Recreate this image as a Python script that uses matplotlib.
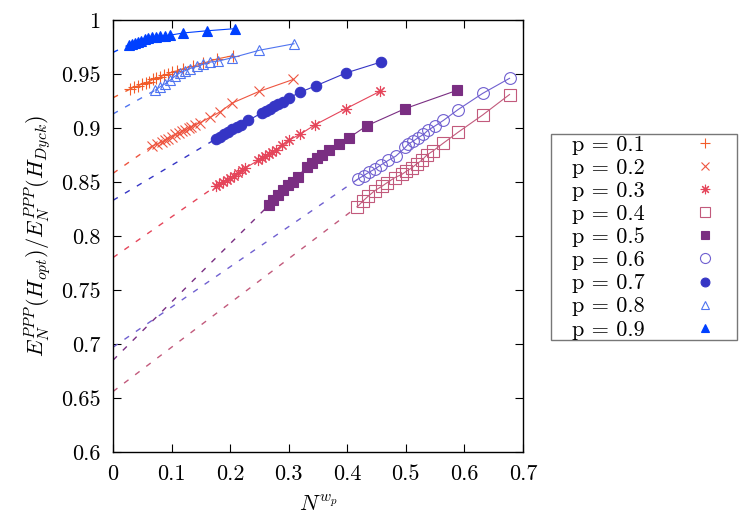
import matplotlib
matplotlib.use("Agg")
import matplotlib.pyplot as plt
from matplotlib.patches import Rectangle

plt.rcParams['font.family'] = 'serif'
plt.rcParams['font.serif'] = ['cmr10', 'DejaVu Serif']
plt.rcParams['mathtext.fontset'] = 'cm'
plt.rcParams['axes.formatter.use_mathtext'] = True

# values
labels = ['p = 0.1', 'p = 0.2', 'p = 0.3', 'p = 0.4', 'p = 0.5',
          'p = 0.6', 'p = 0.7', 'p = 0.8', 'p = 0.9']

x01 = [0.029, 0.036, 0.043, 0.050, 0.056, 0.062, 0.068, 0.074, 0.080, 0.087,
       0.094, 0.101, 0.110, 0.120, 0.136, 0.154, 0.178, 0.205]
y01 = [0.936, 0.938, 0.939, 0.941, 0.942, 0.943, 0.945, 0.946, 0.947, 0.949,
       0.950, 0.952, 0.953, 0.955, 0.957, 0.960, 0.964, 0.967]

x02 = [0.066, 0.075, 0.083, 0.089, 0.094, 0.100, 0.106, 0.112, 0.117, 0.123,
       0.129, 0.134, 0.140, 0.149, 0.166, 0.183, 0.203, 0.250, 0.308]
y02 = [0.883, 0.885, 0.887, 0.889, 0.890, 0.892, 0.894, 0.895, 0.897, 0.898,
       0.900, 0.901, 0.903, 0.905, 0.910, 0.915, 0.923, 0.934, 0.945]

x03 = [0.175, 0.181, 0.188, 0.194, 0.200, 0.207, 0.213, 0.220, 0.226, 0.248,
       0.254, 0.260, 0.266, 0.272, 0.279, 0.288, 0.301, 0.319, 0.345, 0.398, 0.456]
y03 = [0.846, 0.848, 0.850, 0.852, 0.854, 0.856, 0.858, 0.861, 0.863, 0.870,
       0.872, 0.874, 0.876, 0.878, 0.880, 0.884, 0.889, 0.894, 0.903, 0.918, 0.934]

x04 = [0.417, 0.426, 0.436, 0.447, 0.459, 0.467, 0.481, 0.493, 0.501, 0.510,
       0.519, 0.527, 0.536, 0.547, 0.564, 0.589, 0.631, 0.677]
y04 = [0.827, 0.832, 0.837, 0.842, 0.846, 0.849, 0.854, 0.857, 0.860, 0.863,
       0.867, 0.870, 0.875, 0.879, 0.886, 0.896, 0.912, 0.931]

x05 = [0.267, 0.274, 0.282, 0.291, 0.299, 0.307, 0.315, 0.331, 0.339, 0.348,
       0.356, 0.368, 0.385, 0.403, 0.433, 0.499, 0.588]
y05 = [0.829, 0.833, 0.838, 0.843, 0.847, 0.850, 0.855, 0.864, 0.868, 0.872,
       0.875, 0.880, 0.885, 0.891, 0.902, 0.918, 0.935]

x06 = [0.419, 0.428, 0.437, 0.447, 0.458, 0.470, 0.483, 0.499, 0.504, 0.513,
       0.521, 0.530, 0.538, 0.550, 0.564, 0.589, 0.631, 0.677]
y06 = [0.853, 0.856, 0.859, 0.862, 0.866, 0.870, 0.874, 0.882, 0.885, 0.888,
       0.891, 0.894, 0.898, 0.902, 0.907, 0.917, 0.932, 0.946]

x07 = [0.176, 0.183, 0.190, 0.197, 0.204, 0.211, 0.219, 0.231, 0.254, 0.261,
       0.268, 0.275, 0.282, 0.290, 0.301, 0.319, 0.346, 0.398, 0.457]
y07 = [0.890, 0.892, 0.894, 0.896, 0.899, 0.901, 0.903, 0.907, 0.914, 0.916,
       0.918, 0.920, 0.922, 0.924, 0.928, 0.933, 0.939, 0.951, 0.961]

x08 = [0.072, 0.080, 0.089, 0.097, 0.106, 0.114, 0.123, 0.131, 0.143, 0.154,
       0.166, 0.180, 0.203, 0.250, 0.309]
y08 = [0.935, 0.938, 0.941, 0.944, 0.948, 0.951, 0.953, 0.955, 0.957, 0.959,
       0.961, 0.962, 0.965, 0.972, 0.978]

x09 = [0.027, 0.033, 0.038, 0.043, 0.048, 0.054, 0.060, 0.066, 0.073, 0.080,
       0.088, 0.098, 0.120, 0.160, 0.209]
y09 = [0.977, 0.978, 0.979, 0.980, 0.981, 0.982, 0.983, 0.984, 0.984, 0.985,
       0.985, 0.986, 0.988, 0.990, 0.992]

# extrapolated values at N^{w_p} = 0 (dashed lines)
intercepts = [0.928, 0.858, 0.780, 0.656, 0.685, 0.697, 0.833, 0.913, 0.970]

xs = [x01, x02, x03, x04, x05, x06, x07, x08, x09]
ys = [y01, y02, y03, y04, y05, y06, y07, y08, y09]

colors = ['#f25c2a', '#ee5540', '#e5455a', '#c25a7c', '#7a2e82',
          '#7060d0', '#3535c5', '#4f74f0', '#0040ff']
markers = ['+', 'x', (8, 2, 0), 's', 's', 'o', 'o', '^', '^']
filled = [True, True, True, False, True, False, True, False, True]
sizes = [8, 7, 8, 8, 7.5, 8.5, 7.5, 7.5, 7]

fig = plt.figure(figsize=(7.5, 5.25), dpi=100)
ax = fig.add_axes([113 / 750, 1 - 452 / 525, 410 / 750, 432 / 525])

for i in range(9):
    c = colors[i]
    ax.plot([0, xs[i][0]], [intercepts[i], ys[i][0]], color=c, lw=1,
            dashes=(4, 6))
    ax.plot(xs[i], ys[i], color=c, lw=0.8, marker=markers[i],
            ms=sizes[i], mew=0.8,
            mfc=c if filled[i] else 'none', mec=c)

ax.set_xlim(0, 0.7)
ax.set_ylim(0.6, 1.0)
ax.set_xticks([0, 0.1, 0.2, 0.3, 0.4, 0.5, 0.6, 0.7])
ax.set_xticklabels(['0', '0.1', '0.2', '0.3', '0.4', '0.5', '0.6', '0.7'])
ax.set_yticks([0.6, 0.65, 0.7, 0.75, 0.8, 0.85, 0.9, 0.95, 1.0])
ax.set_yticklabels(['0.6', '0.65', '0.7', '0.75', '0.8', '0.85', '0.9', '0.95', '1'])
ax.tick_params(direction='in', length=6, width=0.8, top=True, right=True,
               labelsize=16, pad=9)
for s in ax.spines.values():
    s.set_linewidth(1)

ax.set_xlabel(r'$N^{w_p}$', fontsize=16, labelpad=8)
ax.set_ylabel(r'$E_N^{PPP}(H_{opt})/E_N^{PPP}(H_{Dyck})$', fontsize=16,
              labelpad=6)

# legend: drawn without frame, box added separately
leg_handles = []
for i in range(9):
    c = colors[i]
    h, = ax.plot([], [], ls='none', marker=markers[i], ms=sizes[i] * 0.85,
                 mew=0.8, mfc=c if filled[i] else 'none', mec=c)
    leg_handles.append(h)
fig.legend(leg_handles, labels, loc='upper left',
           bbox_to_anchor=(572 / 750, 1 - 135 / 525), frameon=False,
           markerfirst=False, fontsize=16, borderpad=0, borderaxespad=0,
           handlelength=1.6, handletextpad=1.9, labelspacing=0.16)
fig.patches.append(Rectangle((551 / 750, 1 - 340 / 525), 186 / 750, 206 / 525,
                             transform=fig.transFigure, fill=False,
                             edgecolor='#777777', lw=1))

fig.savefig('out.png', dpi=100)
